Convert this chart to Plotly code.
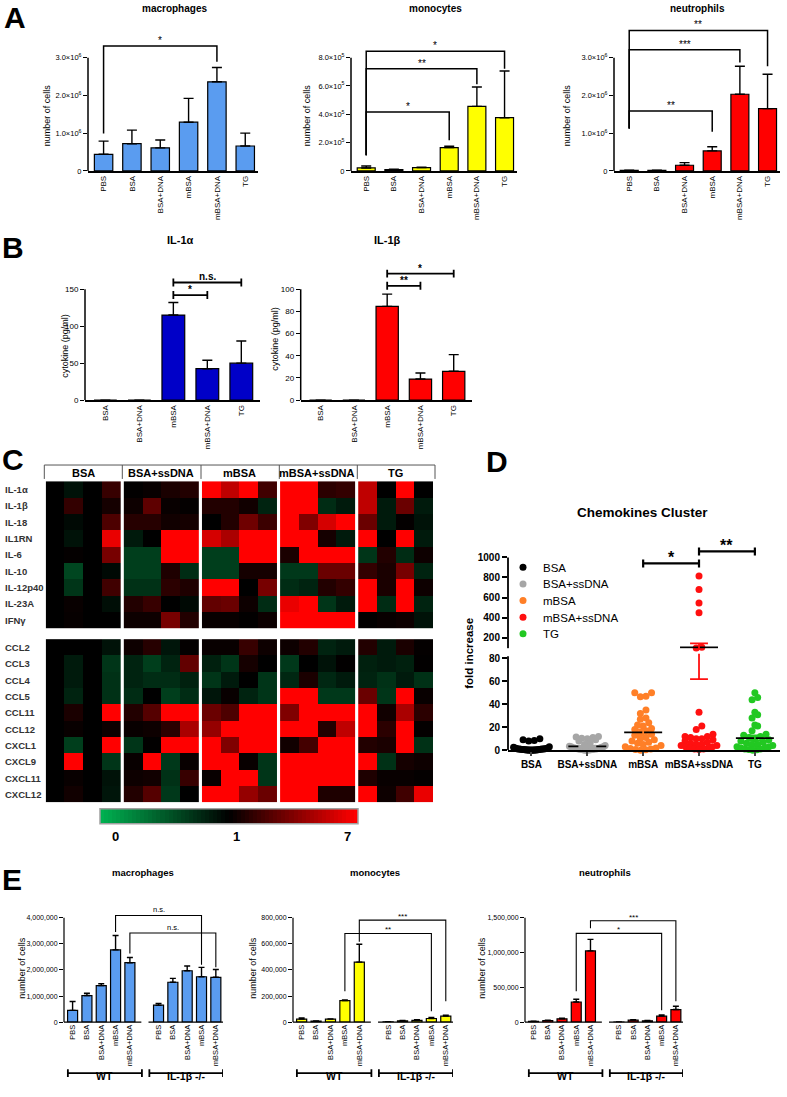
import plotly.graph_objects as go

W, H = 787, 1097
FONT = "Liberation Sans, Arial, sans-serif"

# ---------------- A: cell counts ----------------
a_groups = ["PBS", "BSA", "BSA+DNA", "mBSA", "mBSA+DNA", "TG"]
a_mac = [0.44e6, 0.72e6, 0.61e6, 1.29e6, 2.36e6, 0.66e6]
a_mac_err = [0.35e6, 0.36e6, 0.21e6, 0.63e6, 0.38e6, 0.34e6]
a_mono = [21e3, 9e3, 23.5e3, 165e3, 456e3, 376e3]
a_mono_err = [14e3, 3e3, 2e3, 9e3, 137e3, 330e3]
a_neu = [0.012e6, 0.015e6, 0.15e6, 0.53e6, 2.03e6, 1.65e6]
a_neu_err = [0.004e6, 0.005e6, 0.07e6, 0.11e6, 0.74e6, 0.91e6]
# (from, to, bracket height, left foot, right foot, label)
a_mac_sig = [(0, 4, 3.31e6, 0.99e6, 2.89e6, "*")]
a_mono_sig = [(0, 5, 8.45e5, 1.1e5, 7.22e5, "*"),
              (0, 4, 7.22e5, 1.1e5, 6.12e5, "**"),
              (0, 3, 4.16e5, 1.1e5, 2.16e5, "*")]
a_neu_sig = [(0, 5, 3.72e6, 1.12e6, 2.77e6, "**"),
             (0, 4, 3.21e6, 1.12e6, 2.87e6, "***"),
             (0, 3, 1.59e6, 1.12e6, 1.04e6, "**")]
a_ticks_m = [0, 1e6, 2e6, 3e6]
a_labels_m = ["0", "1.0×10<sup>6</sup>", "2.0×10<sup>6</sup>", "3.0×10<sup>6</sup>"]
a_ticks_5 = [0, 2e5, 4e5, 6e5, 8e5]
a_labels_5 = ["0", "2.0×10<sup>5</sup>", "4.0×10<sup>5</sup>", "6.0×10<sup>5</sup>", "8.0×10<sup>5</sup>"]

# ---------------- B: cytokines ----------------
b_groups = ["BSA", "BSA+DNA", "mBSA", "mBSA+DNA", "TG"]
b_il1a = [0, 0, 115, 42.5, 50]
b_il1a_err = [0, 0, 17, 11.5, 30]
b_il1b = [0, 0, 84.5, 19, 26]
b_il1b_err = [0, 0, 11, 5.5, 15]
b_il1a_sig = [(2, 4, 159, "n.s."), (2, 3, 142, "*")]
b_il1b_sig = [(2, 4, 114, "*"), (2, 3, 103, "**")]

# ---------------- C: heatmap ----------------
c_col_groups = ["BSA", "BSA+ssDNA", "mBSA", "mBSA+ssDNA", "TG"]
c_cyto_rows = ["IL-1α", "IL-1β", "IL-18", "IL1RN", "IL-6", "IL-10", "IL-12p40", "IL-23A", "IFNγ"]
c_chemo_rows = ["CCL2", "CCL3", "CCL4", "CCL5", "CCL11", "CCL12", "CXCL1", "CXCL9", "CXCL11", "CXCL12"]
c_cyto = [
    [1, 0.9, 1, 2.3, 1.05, 1.2, 1.6, 1.8, 7, 5.5, 7, 2.5, 7, 7, 2.0, 2.2, 5.5, 1.0, 7, 1.0],
    [1, 2.2, 1, 1.5, 1.3, 3.2, 1.2, 1.1, 1.8, 1.8, 1.4, 0.8, 7, 7, 0.75, 0.85, 5.5, 0.85, 3.5, 0.85],
    [1, 0.95, 1, 2.8, 1.9, 1.9, 1.4, 1.5, 1.0, 1.8, 3.6, 2.4, 7, 4, 6, 7, 3.5, 0.85, 1.1, 0.9],
    [1, 0.9, 1, 6.5, 0.85, 1, 7, 7, 6, 5, 7, 7, 7, 7, 1.5, 0.85, 7, 1.0, 7, 0.85],
    [1, 1.1, 1, 3.8, 0.65, 0.65, 7, 7, 0.65, 0.65, 7, 7, 1.6, 7, 7, 7, 0.7, 1.8, 0.75, 1.3],
    [1, 0.6, 1, 0.95, 0.65, 0.65, 1.7, 0.75, 0.65, 0.65, 1.5, 1.5, 0.68, 0.68, 3.5, 3.5, 2.2, 1.6, 3.8, 0.8],
    [1, 0.7, 1, 2.5, 0.72, 0.72, 2.0, 1.7, 7, 7, 1.0, 3.8, 0.75, 0.8, 1.8, 2.2, 7, 1.6, 7, 1.3],
    [1, 1.2, 1, 0.92, 1.8, 2.3, 1.0, 0.95, 3.3, 3.5, 1.3, 0.75, 6.5, 7, 0.7, 0.85, 7, 0.75, 7, 0.8],
    [1, 1.15, 1, 1.0, 1.3, 1.3, 3.8, 1.8, 1.2, 1.2, 1.05, 1.3, 7, 7, 7, 7, 1.05, 1.2, 1.3, 0.9],
]
c_chemo = [
    [1, 1.0, 1, 0.9, 1.3, 1.9, 0.88, 1.1, 1.2, 1.2, 2.3, 1.3, 1.3, 1.8, 0.8, 0.85, 1.8, 0.85, 1.6, 1.1],
    [1, 0.85, 1, 0.7, 0.8, 0.65, 0.8, 3.3, 0.82, 0.7, 1.5, 1.0, 0.68, 1.0, 0.9, 1.05, 0.82, 0.85, 0.82, 1.05],
    [1, 0.85, 1, 0.72, 0.8, 0.75, 0.75, 0.82, 0.7, 0.85, 1.0, 0.7, 0.78, 1.6, 0.78, 0.85, 0.8, 0.72, 0.85, 0.72],
    [1, 0.8, 1, 0.72, 0.75, 1.0, 0.65, 0.75, 0.88, 1.2, 0.8, 0.7, 7, 7, 0.68, 0.68, 3.5, 0.7, 7, 1.2],
    [1, 1.6, 1, 7, 1.8, 3.0, 7, 7, 3.5, 2.8, 7, 7, 4, 7, 7, 7, 7, 1.4, 5, 2.0],
    [1, 1.2, 1, 1.3, 1.2, 1.3, 2.0, 5, 4.5, 7, 7, 7, 7, 7, 1.8, 5.5, 7, 2.0, 7, 1.1],
    [1, 0.65, 1, 7, 0.7, 1.05, 7, 7, 7, 4, 7, 7, 1.4, 2.6, 7, 7, 1.8, 1.6, 7, 0.72],
    [1, 7, 1, 0.7, 1.2, 7, 0.68, 1.2, 7, 7, 1.2, 0.7, 7, 7, 7, 7, 7, 0.72, 1.5, 1.3],
    [1, 1.2, 1, 0.9, 1.3, 1.4, 0.72, 2.3, 1.2, 7, 7, 0.7, 7, 7, 7, 7, 1.7, 1.2, 1.2, 1.1],
    [1, 1.4, 1, 0.88, 1.8, 3.0, 0.68, 1.0, 7, 7, 4.5, 3.5, 7, 7, 1.7, 1.7, 7, 1.3, 2.5, 6.5],
]
c_scale_labels = ["0", "1", "7"]

# ---------------- D: chemokines cluster ----------------
d_groups = ["BSA", "BSA+ssDNA", "mBSA", "mBSA+ssDNA", "TG"]
d_colors = ["#000000", "#A6A6A6", "#FF7F27", "#FF1010", "#22C822"]
d_bsa = [10, 9, 8.5, 8, 3, 2.5, 2, 2, 1.5, 1.5, 1.2, 1, 1, 1, 1, 0.8, 0.8, 0.7, 0.5, 0.5,
         0.3, 0.3, 0.2, 0.2, 0.1, 0.1, 0, 0, 0, 0]
d_bsa_ss = [12, 11.5, 11, 10.5, 10, 9, 8, 6, 5, 4, 3.5, 3, 3, 2.5, 2, 2, 2, 1.5, 1.5, 1,
            1, 1, 0.8, 0.5, 0.5, 0.3, 0.2, 0.1, 0, 0]
d_mbsa = [50, 50, 47, 46.5, 35, 32, 28, 27, 24, 22, 21, 19, 18, 17, 15, 14, 13, 11, 10, 9,
          8, 7, 6, 5, 4, 3, 2, 1.5, 1, 0.5, 0.3, 0]
d_mbsa_ss = [815, 680, 545, 450, 105, 98, 33, 21, 18, 14, 12, 12, 11, 10, 10, 9, 8, 7, 6, 5,
             5, 4, 4, 3, 3, 2, 2, 1, 1, 0.5]
d_tg = [50, 46, 44, 33, 31, 28, 22, 21, 17, 14, 13, 12, 11, 10, 9, 8, 7, 6, 5, 5,
        4, 3, 3, 2, 2, 1, 1, 0.5, 0.3, 0]
d_values = [d_bsa, d_bsa_ss, d_mbsa, d_mbsa_ss, d_tg]
d_mean = [2.0, 3.3, 15.6, 103, 10.5]
d_sem = [0.5, 0.7, 2.5, 41, 2.3]
d_sig = [(2, 3, 940, "*"), (3, 4, 1060, "**")]

# ---------------- E: WT vs IL-1b -/- ----------------
e_groups = ["PBS", "BSA", "BSA+DNA", "mBSA", "mBSA+DNA"]
e_strains = ["WT", "IL-1β -/-"]
e_mac_wt = [0.45e6, 1.02e6, 1.4e6, 2.77e6, 2.28e6]
e_mac_wt_err = [0.34e6, 0.09e6, 0.07e6, 0.55e6, 0.2e6]
e_mac_ko = [0.65e6, 1.53e6, 1.97e6, 1.74e6, 1.72e6]
e_mac_ko_err = [0.07e6, 0.15e6, 0.18e6, 0.36e6, 0.3e6]
e_mono_wt = [23e3, 8e3, 23e3, 165e3, 460e3]
e_mono_wt_err = [10e3, 2e3, 2e3, 5e3, 137e3]
e_mono_ko = [2e3, 10e3, 13e3, 28e3, 46e3]
e_mono_ko_err = [1e3, 2e3, 5e3, 7e3, 7e3]
e_neu_wt = [10e3, 24e3, 48e3, 290e3, 1024e3]
e_neu_wt_err = [3e3, 5e3, 9e3, 39e3, 166e3]
e_neu_ko = [2e3, 29e3, 19e3, 86e3, 181e3]
e_neu_ko_err = [1e3, 5e3, 5e3, 19e3, 48e3]
e_mac_sig = [(3, 9, 4.09e6, 3.46e6, 2.2e6, "n.s."), (4, 10, 3.42e6, 2.63e6, 2.1e6, "n.s.")]
e_mono_sig = [(4, 10, 782e3, 617e3, 160e3, "***"), (3, 9, 680e3, 236e3, 84e3, "**")]
e_neu_sig = [(4, 10, 1457e3, 1350e3, 300e3, "***"), (3, 9, 1276e3, 443e3, 171e3, "*")]

# ======================================================
fig = go.Figure()
axes = {}
shapes = []
annotations = []


def ref(n):
    return ("x" if n == 1 else f"x{n}"), ("y" if n == 1 else f"y{n}")


def xkey(n):
    return "xaxis" if n == 1 else f"xaxis{n}"


def ykey(n):
    return "yaxis" if n == 1 else f"yaxis{n}"


def font(size, bold=False, color="black"):
    f = dict(family=FONT, size=size, color=color)
    if bold:
        f["weight"] = "bold"
    return f


def text(x, y, s, size, bold=False, angle=0, anchor="center", color="black"):
    annotations.append(dict(x=x / W, y=1 - y / H, xref="paper", yref="paper",
                            text=f"<b>{s}</b>" if bold else s, showarrow=False,
                            textangle=angle, xanchor=anchor, yanchor="middle",
                            font=font(size, color=color)))


def bar_panel(n, xs, names, vals, errs, color, box, ygeom, yticks, ylabels,
              xrange, width, xfont, yfont, cap, broken=None, lw=1.5):
    xa, ya = ref(n)
    zero_px, top_tick, top_px, ymax = ygeom
    ppu = (zero_px - top_px) / top_tick
    ytop = zero_px - ymax * ppu
    axes[xkey(n)] = dict(domain=[box[0] / W, box[1] / W], range=xrange, anchor=ya,
                         tickmode="array", tickvals=xs, ticktext=names, tickangle=-90,
                         showline=broken is None, linecolor="black", linewidth=lw,
                         ticks="", showgrid=False, zeroline=False, tickfont=font(xfont))
    axes[ykey(n)] = dict(domain=[1 - zero_px / H, 1 - ytop / H], range=[0, ymax], anchor=xa,
                         tickmode="array", tickvals=yticks, ticktext=ylabels,
                         ticks="outside", ticklen=4, tickwidth=1.2, tickcolor="black",
                         showline=False, showgrid=False, zeroline=False, tickfont=font(yfont))
    shapes.append(dict(type="line", xref=f"{xa} domain", yref=ya, x0=0, x1=0, y0=0,
                       y1=top_tick, line=dict(color="black", width=lw)))
    if broken:
        for a, b in broken:
            shapes.append(dict(type="line", xref=xa, yref=f"{ya} domain", x0=a, x1=b,
                               y0=0, y1=0, line=dict(color="black", width=lw)))
    fig.add_trace(go.Bar(
        x=xs, y=vals, width=width, xaxis=xa, yaxis=ya, showlegend=False,
        marker=dict(color=color, line=dict(color="black", width=1.2)),
        error_y=dict(type="data", symmetric=False,
                     array=[e if v else None for v, e in zip(vals, errs)],
                     arrayminus=[0] * len(vals), color="black", thickness=1.4, width=cap)))
    return ppu


def sig_legs(n, sigs, size, lw, shift=-2):
    xa, ya = ref(n)
    for x0, x1, top, left, right, lab in sigs:
        shapes.append(dict(type="path", xref=xa, yref=ya,
                           path=f"M {x0},{left} L {x0},{top} L {x1},{top} L {x1},{right}",
                           line=dict(color="black", width=lw)))
        annotations.append(dict(xref=xa, yref=ya, x=(x0 + x1) / 2, y=top, text=lab,
                                showarrow=False, yanchor="bottom", yshift=shift, font=font(size)))


def sig_caps(n, sigs, cap, size, lw, bold=True, shift=-2):
    xa, ya = ref(n)
    for x0, x1, y, lab in sigs:
        path = (f"M {x0},{y - cap} L {x0},{y + cap} M {x0},{y} L {x1},{y} "
                f"M {x1},{y - cap} L {x1},{y + cap}")
        shapes.append(dict(type="path", xref=xa, yref=ya, path=path,
                           line=dict(color="black", width=lw)))
        annotations.append(dict(xref=xa, yref=ya, x=(x0 + x1) / 2, y=y,
                                text=f"<b>{lab}</b>" if bold else lab, showarrow=False,
                                yanchor="bottom", yshift=shift, font=font(size)))


# ---------------- panel A ----------------
ax_a = list(range(len(a_groups)))
a_xr = [-0.55, 5.45]
BLUE = "#5A9CF0"
bar_panel(1, ax_a, a_groups, a_mac, a_mac_err, BLUE, (88, 258), (171, 3e6, 57, 3.6e6),
          a_ticks_m, a_labels_m, a_xr, 0.65, 8, 7.5, 5)
bar_panel(2, ax_a, a_groups, a_mono, a_mono_err, "#FFFF00", (351, 517), (171, 8e5, 57, 9.2e5),
          a_ticks_5, a_labels_5, a_xr, 0.65, 8, 7.5, 5)
bar_panel(3, ax_a, a_groups, a_neu, a_neu_err, "#FF0000", (614, 780), (171, 3e6, 57, 3.95e6),
          a_ticks_m, a_labels_m, a_xr, 0.65, 8, 7.5, 5)
sig_legs(1, a_mac_sig, 10, 1.5)
sig_legs(2, a_mono_sig, 10, 1.5)
sig_legs(3, a_neu_sig, 10, 1.5)
text(174, 8, "macrophages", 10, bold=True)
text(435, 8, "monocytes", 10, bold=True)
text(697, 8, "neutrophils", 10, bold=True)
for xp in (47, 307, 567):
    text(xp, 115, "number of cells", 9, angle=-90)
text(15, 17, "A", 30, bold=True)

# ---------------- panel B ----------------
ax_b = list(range(len(b_groups)))
b_xr = [-0.6, 4.55]
p4 = bar_panel(4, ax_b, b_groups, b_il1a, b_il1a_err, "#0000C8", (85, 260),
               (401.7, 150, 290, 180), [0, 50, 100, 150], ["0", "50", "100", "150"],
               b_xr, 0.67, 8, 8, 5)
p5 = bar_panel(5, ax_b, b_groups, b_il1b, b_il1b_err, "#FF0000", (300.7, 472),
               (401.7, 100, 290, 125), [0, 20, 40, 60, 80, 100],
               ["0", "20", "40", "60", "80", "100"], b_xr, 0.67, 8, 8, 5)
sig_caps(4, b_il1a_sig, 4 / p4, 10, 1.8)
sig_caps(5, b_il1b_sig, 4 / p5, 10, 1.8)
text(180, 241, "IL-1α", 11, bold=True)
text(387, 241, "IL-1β", 11, bold=True)
text(65, 347, "cytokine (pg/ml)", 9, angle=-90)
text(275, 340, "cytokine (pg/ml)", 9, angle=-90)
text(13, 248, "B", 30, bold=True)

# ---------------- panel C ----------------
PITCH = 4.18
HM_TOP, HM_BOT = 483.3, 806.7
CSCALE = [[0, "#00B050"], [1 / 7, "#000000"], [1, "#FF0000"]]
top_pos = list(range(len(c_cyto_rows)))
bot_pos = [len(c_cyto_rows) + 0.67 + j for j in range(len(c_chemo_rows))]
for g in range(len(c_col_groups)):
    xs = [g * PITCH + c + 0.5 for c in range(4)]
    for rows, pos in ((c_cyto, top_pos), (c_chemo, bot_pos)):
        fig.add_trace(go.Heatmap(z=[r[g * 4:(g + 1) * 4] for r in rows], x=xs, y=pos,
                                 colorscale=CSCALE, zmin=0, zmax=7, showscale=False,
                                 xaxis="x6", yaxis="y6", hoverinfo="skip"))
axes["xaxis6"] = dict(domain=[45.7 / W, 433 / W], range=[0, 4 * PITCH + 4], anchor="y6",
                      visible=False)
axes["yaxis6"] = dict(domain=[1 - HM_BOT / H, 1 - HM_TOP / H], range=[bot_pos[-1] + 0.5, -0.5],
                      anchor="x6", visible=False)
row_px = (HM_BOT - HM_TOP) / (bot_pos[-1] + 1)
for name, pos in zip(c_cyto_rows + c_chemo_rows, top_pos + bot_pos):
    text(3, HM_TOP + (pos + 0.5) * row_px, name, 9.5, bold=True, anchor="left", color="#333333")
# header
shapes.append(dict(type="line", xref="paper", yref="paper", x0=44.3 / W, x1=435 / W,
                   y0=1 - 467 / H, y1=1 - 467 / H, line=dict(color="#555555", width=1)))
for xb in (44.3, 122.3, 201, 279.3, 357.3, 435):
    shapes.append(dict(type="line", xref="paper", yref="paper", x0=xb / W, x1=xb / W,
                       y0=1 - 467 / H, y1=1 - 481 / H, line=dict(color="#555555", width=1)))
for g, name in enumerate(c_col_groups):
    xc = 45.7 + (g * PITCH + 2) * (433 - 45.7) / (4 * PITCH + 4)
    text(xc, 475, name, 11, bold=True)
# colour bar
fig.add_trace(go.Heatmap(z=[list(range(64))], colorscale=[[0, "#00B050"], [0.5, "#000000"],
                                                          [1, "#FF0000"]],
                         showscale=False, xaxis="x7", yaxis="y7", hoverinfo="skip"))
axes["xaxis7"] = dict(domain=[100 / W, 358 / W], range=[-0.5, 63.5], anchor="y7", visible=False)
axes["yaxis7"] = dict(domain=[1 - 828 / H, 1 - 813 / H], range=[-0.5, 0.5], anchor="x7",
                      visible=False)
shapes.append(dict(type="rect", xref="paper", yref="paper", x0=100 / W, x1=358 / W,
                   y0=1 - 828 / H, y1=1 - 813 / H, line=dict(color="#A0A0A0", width=1.5)))
for xp, lab in zip((115, 236, 347), c_scale_labels):
    text(xp, 841, lab, 13, bold=True)
text(13, 461, "C", 30, bold=True)

# ---------------- panel D ----------------
D_LO, D_HI = 84, (90, 1200)
d_xr = [-0.42, 4.45]
axes["xaxis8"] = dict(domain=[508 / W, 780 / W], range=d_xr, anchor="y8", tickmode="array",
                      tickvals=list(range(5)), ticktext=d_groups, showline=True,
                      linecolor="black", linewidth=1.8, ticks="outside", ticklen=4,
                      tickwidth=1.5, showgrid=False, zeroline=False,
                      tickfont=font(10, bold=True))
axes["yaxis8"] = dict(domain=[1 - 754 / H, 1 - (754 - D_LO * 1.154) / H], range=[0, D_LO],
                      anchor="x8", tickvals=[0, 20, 40, 60, 80], ticks="outside", ticklen=5,
                      tickwidth=1.8, tickcolor="black", showline=False, showgrid=False,
                      zeroline=False, tickfont=font(10, bold=True))
up_px = lambda v: 560 + (1000 - v) * 0.101
axes["xaxis9"] = dict(domain=[508 / W, 780 / W], range=d_xr, anchor="y9", visible=False)
axes["yaxis9"] = dict(domain=[1 - up_px(D_HI[0]) / H, 1 - up_px(D_HI[1]) / H], range=list(D_HI),
                      anchor="x9", tickvals=[200, 400, 600, 800, 1000], ticks="outside",
                      ticklen=5, tickwidth=1.8, tickcolor="black", showline=False,
                      showgrid=False, zeroline=False, tickfont=font(10, bold=True))
shapes.append(dict(type="line", xref="x8 domain", yref="y8", x0=0, x1=0, y0=0, y1=82,
                   line=dict(color="black", width=1.8)))
shapes.append(dict(type="line", xref="x9 domain", yref="y9", x0=0, x1=0, y0=95, y1=1000,
                   line=dict(color="black", width=1.8)))


def swarm(vals, bin_units, step, half):
    order = sorted(range(len(vals)), key=lambda i: vals[i])
    offs = [0.0] * len(vals)
    bins = []
    for i in order:
        if bins and vals[i] - vals[bins[-1][0]] < bin_units:
            bins[-1].append(i)
        else:
            bins.append([i])
    for b in bins:
        k = len(b)
        s = step if k < 2 else min(step, 2 * half / (k - 1))
        slots = sorted(((j - (k - 1) / 2) * s for j in range(k)), key=abs)
        for i, o in zip(b, slots):
            offs[i] = o
    return offs


legends = {}
for g, (vals, col) in enumerate(zip(d_values, d_colors)):
    lo = [v for v in vals if v < D_HI[0]]
    hi = [v for v in vals if v >= D_HI[0]]
    lg = "legend" if g == 0 else f"legend{g + 1}"
    legends[lg] = dict(x=503 / W, y=1 - (570 + g * 16.7) / H, xanchor="left", yanchor="middle",
                       bgcolor="rgba(0,0,0,0)", font=font(11.5), itemsizing="trace")
    fig.add_trace(go.Scatter(x=[g + o for o in swarm(lo, 4.5, 0.1, 0.32)], y=lo, mode="markers",
                             marker=dict(color=col, size=7), name=d_groups[g], legend=lg,
                             xaxis="x8", yaxis="y8", cliponaxis=False))
    if hi:
        fig.add_trace(go.Scatter(x=[g + o for o in swarm(hi, 60, 0.1, 0.32)], y=hi,
                                 mode="markers", marker=dict(color=col, size=7),
                                 showlegend=False, xaxis="x9", yaxis="y9", cliponaxis=False))
    for xa, ya in (("x8", "y8"), ("x9", "y9")):
        m, s = d_mean[g], d_sem[g]
        shapes.append(dict(type="line", xref=xa, yref=ya, x0=g - 0.34, x1=g + 0.34, y0=m, y1=m,
                           line=dict(color="black", width=1.8)))
        shapes.append(dict(type="path", xref=xa, yref=ya,
                           path=(f"M {g},{m - s} L {g},{m + s} "
                                 f"M {g - 0.16},{m - s} L {g + 0.16},{m - s} "
                                 f"M {g - 0.16},{m + s} L {g + 0.16},{m + s}"),
                           line=dict(color=col, width=1.8)))
sig_caps(9, d_sig, 40, 16, 2.2, shift=-5)
text(642, 515, "Chemokines Cluster", 13.5, bold=True)
text(469, 657, "fold increase", 11.5, bold=True, angle=-90)
text(497, 463, "D", 30, bold=True)

# ---------------- panel E ----------------
e_x = [s * 6 + i for s in range(2) for i in range(len(e_groups))]
e_names = e_groups * 2
e_xr = [-0.6, 10.5]
e_broken = [(-0.6, 4.8), (5.3, 10.5)]
bar_panel(10, e_x, e_names, e_mac_wt + e_mac_ko, e_mac_wt_err + e_mac_ko_err, BLUE, (64, 223),
          (1027.7, 4e6, 922.7, 4.45e6), [0, 1e6, 2e6, 3e6, 4e6],
          ["0", "1,000,000", "2,000,000", "3,000,000", "4,000,000"], e_xr, 0.7, 7.5, 7, 3,
          broken=e_broken, lw=1.2)
bar_panel(11, e_x, e_names, e_mono_wt + e_mono_ko, e_mono_wt_err + e_mono_ko_err, "#FFFF00",
          (293, 453), (1027.7, 8e5, 922.7, 8.7e5), [0, 2e5, 4e5, 6e5, 8e5],
          ["0", "200,000", "400,000", "600,000", "800,000"], e_xr, 0.7, 7.5, 7, 3,
          broken=e_broken, lw=1.2)
bar_panel(12, e_x, e_names, e_neu_wt + e_neu_ko, e_neu_wt_err + e_neu_ko_err, "#FF0000",
          (525, 683), (1027.7, 1.5e6, 922.7, 1.62e6), [0, 5e5, 1e6, 1.5e6],
          ["0", "500,000", "1,000,000", "1,500,000"], e_xr, 0.7, 7.5, 7, 3,
          broken=e_broken, lw=1.2)
sig_legs(10, e_mac_sig, 7.5, 1.1, shift=-1)
sig_legs(11, e_mono_sig, 8, 1.1, shift=-3)
sig_legs(12, e_neu_sig, 8, 1.1, shift=-3)
for n in (10, 11, 12):
    xa, _ = ref(n)
    for (a, b), lab in zip([(-0.33, 4.84), (5.36, 10.5)], e_strains):
        yp = 1 - 1079 / H
        c = 4 / H
        shapes.append(dict(type="path", xref=xa, yref="paper",
                           path=(f"M {a},{yp - c} L {a},{yp + c} M {a},{yp} L {b},{yp} "
                                 f"M {b},{yp - c} L {b},{yp + c}"),
                           line=dict(color="black", width=1.8)))
        annotations.append(dict(xref=xa, yref="paper", x=(a + b) / 2, y=1 - 1090 / H,
                                text=f"<b>{lab}</b>", showarrow=False, font=font(10.5)))
text(143, 877, "macrophages", 9.5, bold=True)
text(375, 877, "monocytes", 9.5, bold=True)
text(605, 877, "neutrophils", 9.5, bold=True)
for xp in (22, 253, 482):
    text(xp, 973, "number of cells", 9, angle=-90)
text(12, 884, "E", 30, bold=True)

fig.update_layout(
    width=W, height=H, margin=dict(l=0, r=0, t=0, b=0),
    paper_bgcolor="white", plot_bgcolor="white",
    font=dict(family=FONT, color="black"),
    showlegend=True,
    shapes=shapes, annotations=annotations, **axes, **legends)

page_fix = ("document.body.style.margin='0px';"
            "document.body.style.overflow='hidden';"
            "document.documentElement.style.overflow='hidden';")
fig.write_html("out.html", config={"displayModeBar": False}, post_script=page_fix)
